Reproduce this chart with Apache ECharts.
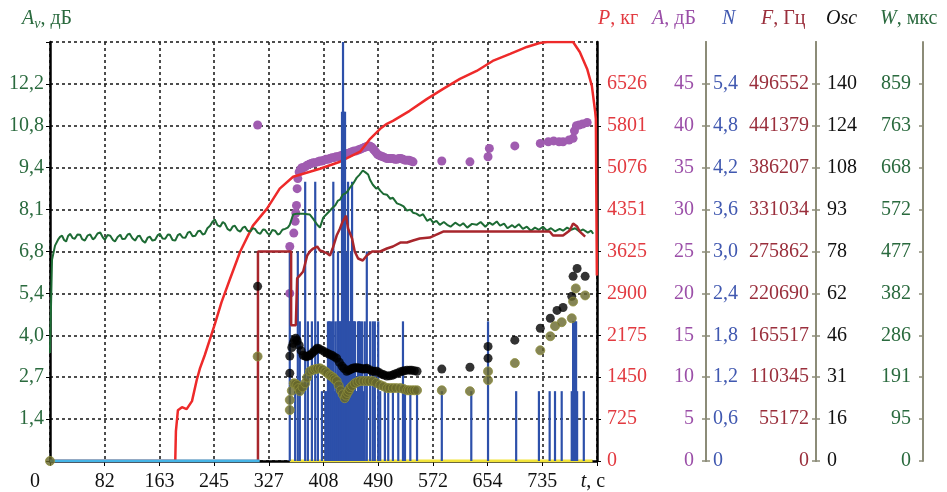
<!DOCTYPE html>
<html>
<head>
<meta charset="UTF-8">
<title>chart</title>
<script src="https://cdn.jsdelivr.net/npm/echarts@6/dist/echarts.min.js"></script>
<style>
  html, body { margin: 0; padding: 0; background: #fff; }
  #main { width: 947px; height: 492px; }
</style>
</head>
<body>
<div id="main"></div>
<script>
// tick labels
var xTicks = ['0', '82', '163', '245', '327', '408', '490', '572', '654', '735', 't'];
var avTicks = ['', '1,4', '2,7', '4,0', '5,4', '6,8', '8,1', '9,4', '10,8', '12,2', ''];
var pTicks = ['0', '725', '1450', '2175', '2900', '3625', '4351', '5076', '5801', '6526', ''];
var aTicks = ['0', '5', '10', '15', '20', '25', '30', '35', '40', '45', ''];
var nTicks = ['0', '0,6', '1,2', '1,8', '2,4', '3,0', '3,6', '4,2', '4,8', '5,4', ''];
var fTicks = ['0', '55172', '110345', '165517', '220690', '275862', '331034', '386207', '441379', '496552', ''];
var oscTicks = ['0', '16', '31', '46', '62', '78', '93', '108', '124', '140', ''];
var wTicks = ['0', '95', '191', '286', '382', '477', '572', '668', '763', '859', ''];

// P, кг (red line)
var pData = [[0,0],[187,0],[188,518],[191,880],[197,932],[204,898],[212,1036],[219,1398],[224,1606],[231,1830],[246,2365],[256,2745],[269,3159],
  [284,3625],[303,4074],[324,4368],[343,4713],[363,4920],[378,4972],[403,5058],[433,5179],[463,5352],[478,5576],[493,5749],[503,5835],
  [512,5887],[537,6060],[563,6267],[587,6440],[612,6612],[637,6750],[661,6923],[687,7044],[712,7165],[731,7234],[742,7251],[781,7251],
  [791,7078],[802,6785],[809,6491],[814,6042],[815,5922],[816.5,3211]];

// A, дБ (purple dots)
var aData = [[310,40.1],[358,20.0],[358,25.6],[364,27.2],[366,28.6],[367,29.6],[368,30.5],[369,32.5],[370,33.7],[372,34.5],[374,34.8],
  [376,35.0],[378,35.0],[381,35.1],[384,35.3],[387,35.4],[390,35.5],[393,35.6],[396,35.6],[400,35.7],[403,35.8],[406,35.8],[409,35.9],
  [412,36.0],[415,36.0],[418,36.1],[421,36.2],[424,36.2],[427,36.3],[430,36.3],[433,36.4],[436,36.5],[439,36.6],[442,36.7],[445,36.7],
  [448,36.8],[451,36.9],[454,37.0],[457,37.0],[460,37.1],[463,37.2],[466,37.3],[469,37.4],[472,37.5],[475,37.6],[477,37.6],[479,37.5],
  [481,37.4],[483,37.2],[485,37.0],[487,36.8],[489,36.6],[491,36.5],[494,36.4],[497,36.3],[500,36.2],[503,36.1],[506,36.1],[509,36.1],
  [512,36.1],[515,36.0],[518,36.0],[521,36.1],[524,36.1],[527,36.0],[530,35.9],[533,35.9],[536,35.9],[539,35.8],[542,35.7],
  [585,35.8],[627,35.7],[654,36.3],[656,37.3],[694,37.6],[732,37.9],[744,38.1],[752,38.2],[760,38.1],[766,38.1],[775,38.3],[781,38.5],
  [783,39.4],[786,40.0],[790,40.1],[795,40.2],[802,40.4]];

// N (blue bars)
var nData = [[358,3],[366,1],[370,3],[373,2],[381,4],[385,2],[391,2],[396,4],[400,2],[406,1],[411,1],[413,1],[415,2],[417,2],[418,2],
  [420,1],[421,2],[423,4],[424,1],[426,2],[427,1],[429,2],[430,3],[432,2],[433,2],[435,2],[436,5],[437.5,6],[439,5],[440.5,5],[442,2],
  [443.5,3],[445,4],[446.5,2],[448,2],[449.5,3],[451,4],[452.5,2],[454,2],[455.5,2],[457,1],[458.5,1],[460,2],[461.5,2],[463,2],
  [464.5,1],[466,2],[467.5,1],[470,2],[473,3],[478,2],[482,2],[485,2],[490,2],[493,1],[500,1],[505,1],[512,1],[520,1],[527,2],
  [530,1],[538,1],[548,1],[585,1],[629,1],[654,2],[696,1],[730,1],[746,1],[754,1],[764,1],[779,1],[781,2],[782.5,2],[784,2],
  [785.5,2],[787,1],[797,1]];

// A_v, дБ (green line)
var avData = [[0,3.48],[3,6.48],[7.5,6.94],[12,7.13],[15,7.22],[18,7.26],[21,7.12],[24,7.07],[27,7.25],[30,7.32],[34,7.18],[37,7.16],
  [41,7.30],[45,7.29],[48,7.15],[52,7.10],[56,7.26],[60,7.30],[64,7.14],[67,7.19],[71,7.33],[75,7.36],[79,7.20],[82,7.13],[86,7.28],
  [90,7.26],[94,7.12],[97,7.07],[101,7.22],[105,7.29],[108,7.15],[112,7.16],[116,7.30],[119,7.32],[123,7.18],[127,7.10],[131,7.24],
  [134,7.26],[138,7.10],[142,7.03],[146,7.20],[149,7.23],[153,7.10],[157,7.13],[161,7.28],[164,7.32],[168,7.17],[172,7.16],[176,7.30],
  [179,7.29],[183,7.12],[187,7.10],[191,7.28],[194,7.32],[198,7.20],[202,7.19],[206,7.36],[209,7.39],[213,7.24],[217,7.26],[221,7.40],
  [224,7.42],[228,7.30],[231,7.32],[235,7.50],[239,7.58],[243,7.72],[246,7.78],[250,7.60],[254,7.55],[258,7.70],[261,7.65],[265,7.48],
  [269,7.42],[273,7.56],[276,7.58],[280,7.44],[284,7.39],[288,7.52],[291,7.55],[295,7.42],[299,7.39],[303,7.50],[306,7.48],[310,7.36],
  [314,7.32],[318,7.46],[321,7.45],[325,7.33],[328,7.29],[332,7.44],[336,7.42],[340,7.30],[343,7.32],[347,7.45],[351,7.48],[355,7.52],
  [358,7.61],[363,7.94],[369,7.97],[378,7.97],[388,7.94],[393,7.80],[399,7.61],[403,7.52],[408,7.84],[415,8.00],
  [422,8.16],[426,8.24],[430,8.39],[433,8.42],[437,8.58],[441,8.62],[444,8.68],[448,8.81],[453,8.95],[458,9.13],[462,9.22],[467,9.36],
  [471,9.30],[475,9.23],[478,9.05],[482,8.90],[487,8.78],[490,8.80],[493,8.71],[498,8.60],[503,8.58],[508,8.45],[512,8.48],[518,8.30],
  [523,8.26],[528,8.20],[533,8.07],[538,8.10],[542,8.00],[547,7.97],[552,7.90],[557,7.95],[563,7.74],[568,7.80],[572,7.68],[577,7.74],
  [582,7.61],[588,7.70],[593,7.61],[598,7.55],[605,7.68],[612,7.58],[617,7.66],[623,7.52],[630,7.64],[637,7.61],[643,7.70],[650,7.55],
  [656,7.68],[661,7.61],[667,7.72],[672,7.58],[678,7.65],[683,7.50],[690,7.60],[694,7.52],[700,7.63],[706,7.48],[712,7.55],[718,7.42],
  [724,7.52],[730,7.45],[736,7.55],[742,7.42],[748,7.50],[754,7.40],[761,7.48],[766,7.42],[772,7.52],[778,7.45],[784,7.50],[790,7.40],
  [796,7.46],[803,7.36],[808,7.42],[811,7.32]];

// F, Гц (dark red step line)
var fData = [[0,0],[310.5,0],[310.5,275862],[360,275862],[360,178650],[367,178650],[369,240390],[373,244330],[378,249580],[384,270600],
  [388,275860],[393,279800],[399,282420],[403,277170],[408,275860],[414,273230],[418,270600],[422,279800],[428,296870],[433,306070],
  [437,315270],[442,323150],[445,306070],[451,292930],[455,275860],[460,266660],[467,264030],[473,270600],[481,275860],[493,275860],
  [503,279800],[512,282420],[523,287670],[533,287670],[542,290310],[552,292930],[567,294250],[587,302130],[661,302130],[746,302130],
  [751,296870],[766,296870],[776,303440],[781,312640],[787,308700],[791,302130],[799,295560]];

// Osc (black dots)
var oscData = [[310,64.6],[358,32.5],[358,38.8],[361,42.0],[363,43.5],[365,44.8],[367,45.4],[369,44.5],[372,42.8],[375,40.8],[378,39.1],
  [381,38.8],[383,38.6],[386,38.8],[388,39.1],[391,39.8],[394,40.5],[397,41.2],[399,41.7],[402,41.5],[406,41.0],[410,40.4],[414,39.9],
  [417,39.5],[421,39.1],[424,38.6],[428,38.0],[432,36.5],[436,35.1],[439,34.2],[443,33.2],[446,33.5],[448,33.8],[450,34.0],[452,34.3],
  [455,34.5],[458,34.5],[461,34.4],[463,34.3],[466,34.1],[468,34.0],[471,34.1],[473,34.3],[477,33.8],[481,33.2],[484,33.2],[488,33.2],
  [492,32.6],[496,32.1],[499,31.8],[503,31.4],[507,31.5],[511,31.7],[514,32.1],[518,32.5],[522,32.9],[526,33.2],[529,33.4],[533,33.6],
  [537,33.6],[540,33.6],[544,33.4],[548,33.2],[585,34.0],[627,34.7],[654,38.0],[654,42.4],[694,44.7],[732,49.1],[747,52.8],[757,55.7],
  [766,56.8],[779,60.9],[781,68.3],[787,71.2],[799,68.3]];

// W, мкс (olive dots)
var wData = [[0,0],[310,238],[358,116],[358,139],[361,160],[364,177],[366,176],[369,173],[371,166],[373,159],[377,168],[381,177],
  [384,190],[388,204],[392,207],[396,209],[399,210],[403,211],[407,208],[411,204],[414,200],[418,195],[420,193],[423,190],[425,186],
  [428,182],[431,172],[434,161],[437,152],[440,143],[442,149],[444,155],[446,160],[448,166],[451,171],[455,177],[459,180],[463,182],
  [468,182],[473,182],[477,182],[482,182],[487,178],[493,173],[498,170],[503,166],[507,166],[512,166],[517,166],[523,166],[528,164],
  [533,161],[536,161],[540,161],[544,161],[548,161],[585,161],[627,159],[654,184],[654,204],[694,223],[732,252],[747,284],[754,307],
  [764,316],[779,325],[781,363],[785,393],[799,377]];

// bottom helper lines
var cyanData = [[0,0],[313,0]];
var yellowData = [[358,0],[810,0]];

var chart = echarts.init(document.getElementById('main'));
var serif = '"Liberation Serif", "DejaVu Serif", serif';
var xStep = 81.67;

function fmt(arr, step) {
    return function (v) { return arr[Math.round(v / step)]; };
}

function rightAxis(step, ticks, color, offset, inside, margin) {
    return {
        type: 'value', position: 'right', offset: offset, min: 0, max: step * 10, interval: step,
        axisLine: { show: true, onZero: false, lineStyle: { color: '#8c8c78', width: 2 } },
        axisTick: { show: true, inside: inside, length: 4, lineStyle: { color: '#8c8c78', width: 1.5 } },
        axisLabel: { inside: inside, margin: margin, color: color, fontFamily: serif, fontSize: 20,
            showMaxLabel: false, formatter: fmt(ticks, step) },
        splitLine: { show: false }
    };
}

var yAxes = [
    {
        type: 'value', position: 'left', min: 0, max: 13.5, interval: 1.35,
        axisLine: { show: true, onZero: false, lineStyle: { color: '#000', width: 2.5 } },
        axisTick: { show: true, length: 4, lineStyle: { color: '#000' } },
        axisLabel: { margin: 6, color: '#2a6a3e', fontFamily: serif, fontSize: 20, formatter: fmt(avTicks, 1.35) },
        splitLine: { show: true, lineStyle: { color: '#222', type: [3, 3], width: 1.6 } }
    },
    {
        type: 'value', position: 'right', offset: 0, min: 0, max: 7251, interval: 725.1,
        axisLine: { show: true, onZero: false, lineStyle: { color: '#000', width: 2.5 } },
        axisTick: { show: true, length: 4, lineStyle: { color: '#000' } },
        axisLabel: { margin: 10, color: '#e23a40', fontFamily: serif, fontSize: 20, showMaxLabel: false,
            formatter: fmt(pTicks, 725.1) },
        splitLine: { show: false }
    },
    rightAxis(5, aTicks, '#9b4fa8', 109, true, 12),
    rightAxis(0.6, nTicks, '#4058b0', 109, false, 7),
    rightAxis(55172.4, fTicks, '#9a2f3c', 219, true, 7),
    rightAxis(15.5, oscTicks, '#111', 219, false, 11),
    rightAxis(95.4, wTicks, '#2a6a3e', 326, true, 12)
];

function title(x, text, color) {
    return { type: 'text', left: x, top: 9, z: 100,
        style: { text: text, fill: color, font: '20px ' + serif, rich: {
            i: { fontStyle: 'italic', fontSize: 20, fontFamily: serif, fill: color },
            n: { fontSize: 20, fontFamily: serif, fill: color },
            s: { fontStyle: 'italic', fontSize: 14, fontFamily: serif, fill: color, padding: [10, 0, 0, 0] }
        } } };
}

chart.setOption({
    animation: false,
    grid: { left: 50, right: 350, top: 42, bottom: 29 },
    xAxis: {
        type: 'value', min: 0, max: xStep * 10, interval: xStep,
        axisLine: { show: true, onZero: false, lineStyle: { color: '#000', width: 2.5 } },
        axisTick: { show: true, length: 5, lineStyle: { color: '#000' } },
        axisLabel: {
            margin: 11, color: '#111', fontFamily: serif, fontSize: 20, showMaxLabel: true, showMinLabel: true,
            formatter: function (v) {
                var i = Math.round(v / xStep);
                if (i === 0) return '{z|0}';
                if (i === 10) return '{i|t}{n|, с}';
                return xTicks[i];
            },
            rich: {
                z: { fontFamily: serif, fontSize: 20, padding: [0, 30, 0, 0] },
                i: { fontFamily: serif, fontSize: 20, fontStyle: 'italic' },
                n: { fontFamily: serif, fontSize: 20, padding: [0, 8, 0, 0] }
            }
        },
        splitLine: { show: true, lineStyle: { color: '#222', type: [3, 3], width: 1.6 } }
    },
    yAxis: yAxes,
    graphic: [
        title(22, '{i|A}{s|v}{n|, дБ}', '#2a6a3e'),
        title(598, '{i|P}{n|, кг}', '#e23a40'),
        title(652, '{i|A}{n|, дБ}', '#9b4fa8'),
        title(722, '{i|N}', '#4058b0'),
        title(761, '{i|F}{n|, Гц}', '#9a2f3c'),
        title(826, '{i|Osc}', '#111'),
        title(880, '{i|W}{n|, мкс}', '#2a6a3e')
    ],
    series: [
        { type: 'line', yAxisIndex: 0, data: yellowData, showSymbol: false, z: 1,
          lineStyle: { color: '#f2e43a', width: 3 } },
        { type: 'scatter', yAxisIndex: 2, data: aData, symbolSize: 9, z: 2,
          itemStyle: { color: '#a05cb0', opacity: 1 } },
        { type: 'line', yAxisIndex: 1, data: pData, showSymbol: false, z: 3,
          lineStyle: { color: '#ee2a2a', width: 2.5 } },
        { type: 'bar', yAxisIndex: 3, data: nData, barWidth: 2.2, z: 4,
          itemStyle: { color: '#2d50aa' } },
        { type: 'line', yAxisIndex: 0, data: avData, showSymbol: false, z: 5,
          lineStyle: { color: '#1d6b34', width: 2 } },
        { type: 'line', yAxisIndex: 4, data: fData, showSymbol: false, z: 6,
          lineStyle: { color: '#a8262c', width: 2.5 } },
        { type: 'line', yAxisIndex: 0, data: cyanData, showSymbol: false, z: 7,
          lineStyle: { color: '#45b4e6', width: 3 } },
        { type: 'scatter', yAxisIndex: 5, data: oscData, symbolSize: 9, z: 8,
          itemStyle: { color: '#000' } },
        { type: 'scatter', yAxisIndex: 6, data: wData, symbolSize: 9, z: 9,
          itemStyle: { color: '#66662a', borderColor: '#8f8f3c', borderWidth: 1 } }
    ]
});
</script>
</body>
</html>
